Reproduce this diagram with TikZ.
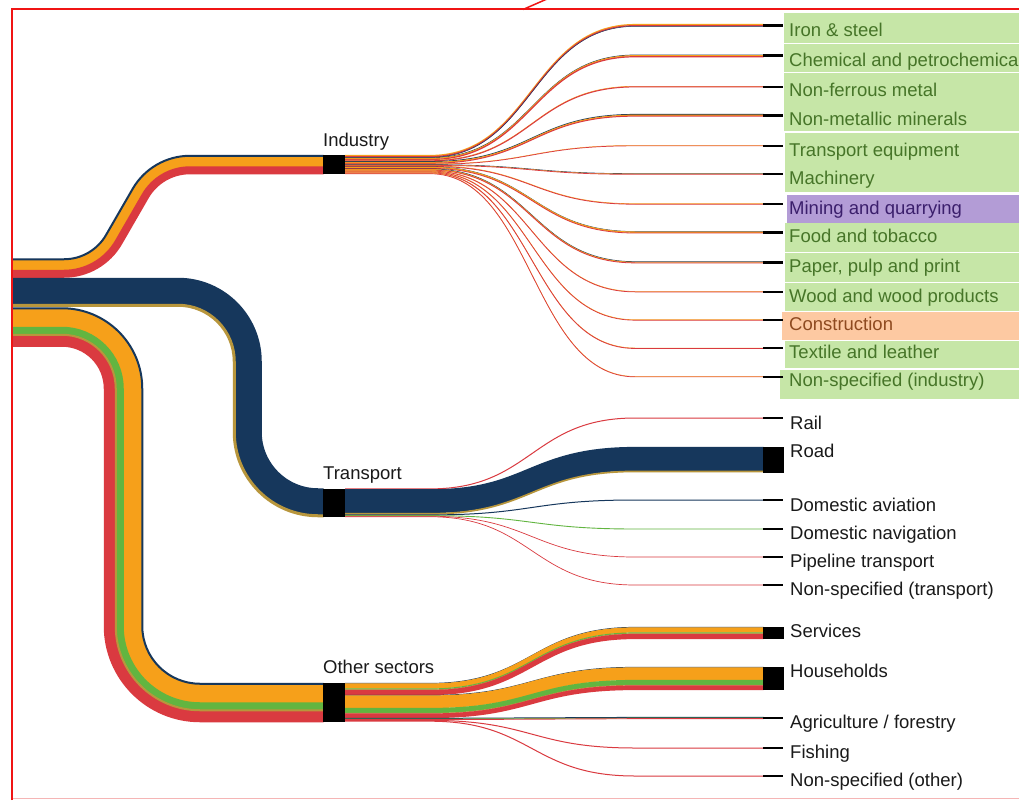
\documentclass[tikz,border=0pt]{standalone}
\usepackage{fontspec}
\setmainfont{Liberation Sans}
\definecolor{cNavy}{HTML}{16375C}
\definecolor{cOrange}{HTML}{F6A01A}
\definecolor{cRed}{HTML}{DA3A40}
\definecolor{cGreen}{HTML}{62B540}
\definecolor{cGold}{HTML}{B8963C}
\definecolor{cFrame}{HTML}{F01414}
\definecolor{cPink}{HTML}{F5B5B5}
\definecolor{cBoxG}{HTML}{C6E6A7}
\definecolor{cBoxP}{HTML}{B39CD6}
\definecolor{cBoxO}{HTML}{FDC9A2}
\definecolor{cTxtG}{HTML}{467528}
\definecolor{cTxtP}{HTML}{3B1F6C}
\definecolor{cTxtO}{HTML}{8E4A20}
\definecolor{cTxt}{HTML}{1A1A1A}
% industry band stripe: colour, top, bottom (at left edge)
\newcommand\indS[3]{%
  \pgfmathsetmacro\yS{(#2+#3)/2}\pgfmathsetmacro\wS{#3-#2+0.5}%
  \pgfmathsetmacro\rA{57.3-(268-\yS)}\pgfmathsetmacro\rB{57.3+(268-\yS)}%
  \pgfmathsetmacro\yE{\yS-103.46}%
  \draw[#1, line width=\wS pt] (11,\yS) -- (64,\yS) arc[start angle=90, end angle=30, radius=\rA] -- ++(26.65,-46.16) arc[start angle=210, end angle=270, radius=\rB] -- (323.5,\yE);}
% transport band stripe
\newcommand\trS[3]{%
  \pgfmathsetmacro\yS{(#2+#3)/2}\pgfmathsetmacro\wS{#3-#2+0.5}%
  \pgfmathsetmacro\rA{361.5-\yS}\pgfmathsetmacro\rB{\yS-221.5}%
  \pgfmathsetmacro\xV{539.5-\yS}\pgfmathsetmacro\yE{\yS+210.5}%
  \draw[#1, line width=\wS pt] (11,\yS) -- (178,\yS) arc[start angle=270, end angle=360, radius=\rA] -- (\xV,432) arc[start angle=180, end angle=90, radius=\rB] -- (323.5,\yE);}
% other sectors band stripe
\newcommand\otS[3]{%
  \pgfmathsetmacro\yS{(#2+#3)/2}\pgfmathsetmacro\wS{#3-#2+0.5}%
  \pgfmathsetmacro\eS{\yS-307.5}%
  \pgfmathsetmacro\rA{81-\eS}\pgfmathsetmacro\rB{57+\eS}%
  \pgfmathsetmacro\xV{143-\eS}\pgfmathsetmacro\yE{683+\eS}%
  \draw[#1, line width=\wS pt] (11,\yS) -- (62,\yS) arc[start angle=270, end angle=360, radius=\rA] -- (\xV,626) arc[start angle=180, end angle=90, radius=\rB] -- (323.5,\yE);}
% multi-stripe link: source top, target top, list colour/width
\newcommand\mlk[3]{%
  \xdef\accO{0}%
  \foreach \cc/\ww in {#3}{%
    \pgfmathsetmacro\sA{#1+\accO+\ww/2}%
    \pgfmathsetmacro\tA{#2+\accO+\ww/2}%
    \pgfmathsetmacro\wB{\ww+0.2}%
    \draw[color=\cc, line width=\wB pt] (345,\sA) -- (430,\sA) .. controls (532,\sA) and (532,\tA) .. (635,\tA) -- (763.5,\tA);
    \pgfmathsetmacro\nA{\accO+\ww}%
    \xdef\accO{\nA}%
  }}
\begin{document}
\begin{tikzpicture}[x=1pt, y=-1pt,
  blk/.style={rectangle, fill=black, draw=none, inner sep=0pt, minimum width=22pt},
  tick/.style={rectangle, fill=black, draw=none, inner sep=0pt, minimum width=20pt},
  lbl/.style={anchor=base west, inner sep=0pt, text=cTxt, font=\fontsize{18.5pt}{22pt}\selectfont},
  lblG/.style={lbl, text=cTxtG},
  lblP/.style={lbl, text=cTxtP},
  lblO/.style={lbl, text=cTxtO}]
\useasboundingbox (0,0) rectangle (1019,800);
\clip (0,0) rectangle (1019,800);
\fill[white] (0,0) rectangle (1019,800);

% label highlight boxes
\fill[cBoxG] (784,13) rectangle (1019,43.3);
\fill[cBoxG] (784,43.8) rectangle (1019,72.4);
\fill[cBoxG] (784,73) rectangle (1019,101.6);
\fill[cBoxG] (784,102.2) rectangle (1019,131);
\fill[cBoxG] (785,133) rectangle (1019,161.6);
\fill[cBoxG] (785,162.3) rectangle (1019,192);
\fill[cBoxP] (787,195) rectangle (1019,222.5);
\fill[cBoxG] (785,223) rectangle (1019,252);
\fill[cBoxG] (785,252.6) rectangle (1019,281.5);
\fill[cBoxG] (785,283) rectangle (1019,311.2);
\fill[cBoxO] (782,312) rectangle (1019,340);
\fill[cBoxG] (785,340.6) rectangle (1019,367.5);
\fill[cBoxG] (780,370) rectangle (1019,399);

% source bands
\indS{cOrange}{260}{270}
\indS{cRed}{270}{277.5}
\indS{cNavy}{258.5}{260}
\trS{cNavy}{278}{304}
\trS{cGold}{304}{306.5}
\otS{cOrange}{309}{327}
\otS{cGreen}{327}{334}
\otS{cRed}{335.5}{346.5}
\otS{cGold}{334}{335.5}
\otS{cNavy}{307.5}{309}

% industry links
\mlk{155}{24.05}{cOrange/1.1, cRed/1.1, cNavy/0.3}
\mlk{157.5}{54.75}{cNavy/0.5, cOrange/1.0, cRed/1.0}
\mlk{160}{86.1}{cOrange/0.4, cRed/0.8}
\mlk{161.2}{114.05}{cNavy/0.7, cOrange/1.0, cRed/0.8}
\mlk{163.7}{145.3}{cOrange/0.3, cRed/0.5}
\mlk{164.5}{173.4}{cNavy/0.4, cOrange/0.3, cRed/0.5}
\mlk{165.7}{203.5}{cOrange/0.4, cRed/0.6}
\mlk{166.7}{231.3}{cNavy/0.3, cOrange/1.1, cRed/0.6}
\mlk{168.7}{261.4}{cNavy/0.5, cOrange/0.7, cRed/0.6}
\mlk{170.5}{291.25}{cOrange/0.35, cRed/0.55}
\mlk{171.4}{319.55}{cOrange/0.4, cRed/0.5}
\mlk{172.3}{347.85}{cOrange/0.3, cRed/0.6}
\mlk{173.2}{376.3}{cOrange/0.3, cRed/0.5}

% transport links
\mlk{488.5}{417.6}{cRed/0.8}
\mlk{489.3}{447}{cNavy/23.7, cGold/1.5}
\mlk{514.5}{499.6}{cNavy/0.8}
\mlk{515.3}{528.65}{cGreen/0.7}
\mlk{516}{556.75}{cRed/0.5}
\mlk{516.5}{584.75}{cRed/0.5}

% other sectors links
\mlk{683}{627}{cNavy/0.5, cOrange/5, cGreen/1, cGold/0.5, cRed/5}
\mlk{695}{667}{cNavy/0.5, cOrange/12.5, cGreen/5, cGold/0.5, cRed/4.5}
\mlk{718}{717}{cNavy/0.8, cGreen/0.5, cRed/0.7}
\mlk{720}{747.6}{cRed/0.8}
\mlk{720.8}{775.6}{cRed/0.8}

% sector nodes
\node[blk, minimum height=19pt] (ind) at (334,164.5) {};
\node[blk, minimum height=28.5pt] (tra) at (334,502.75) {};
\node[blk, minimum height=39pt] (oth) at (334,702.5) {};
\node[lbl] (lind) at (323,146.6) {Industry};
\node[lbl] (ltra) at (323,479.6) {Transport};
\node[lbl] (loth) at (323,673.6) {Other sectors};

% industry end nodes
\node[tick, minimum height=3pt] (i1) at (773,25.3) {};
\node[tick, minimum height=3pt] (i2) at (773,56) {};
\node[tick, minimum height=2.2pt] (i3) at (773,86.7) {};
\node[tick, minimum height=3.5pt] (i4) at (773,115.3) {};
\node[tick, minimum height=2pt] (i5) at (773,145.7) {};
\node[tick, minimum height=2.2pt] (i6) at (773,174) {};
\node[tick, minimum height=2pt] (i7) at (773,204) {};
\node[tick, minimum height=3pt] (i8) at (773,232.3) {};
\node[tick, minimum height=2.8pt] (i9) at (773,262.3) {};
\node[tick, minimum height=2pt] (i10) at (773,291.7) {};
\node[tick, minimum height=2pt] (i11) at (773,320) {};
\node[tick, minimum height=2pt] (i12) at (773,348.3) {};
\node[tick, minimum height=2pt] (i13) at (773,376.7) {};
\node[lblG] at (789,36.6) {Iron \& steel};
\node[lblG] at (789,66.6) {Chemical and petrochemical};
\node[lblG] at (789,96.6) {Non-ferrous metal};
\node[lblG] at (789,125.6) {Non-metallic minerals};
\node[lblG] at (789,156.6) {Transport equipment};
\node[lblG] at (789,184.6) {Machinery};
\node[lblP] at (789,214.6) {Mining and quarrying};
\node[lblG] at (789,242.6) {Food and tobacco};
\node[lblG] at (789,272.6) {Paper, pulp and print};
\node[lblG] at (789,302.6) {Wood and wood products};
\node[lblO] at (789,330.6) {Construction};
\node[lblG] at (789,358.6) {Textile and leather};
\node[lblG] at (789,386.6) {Non-specified (industry)};

% transport end nodes
\node[tick, minimum height=2.2pt] (t1) at (773,418) {};
\node[tick, minimum width=21pt, minimum height=26pt] (t2) at (773.5,460) {};
\node[tick, minimum height=2.2pt] (t3) at (773,500) {};
\node[tick, minimum height=2.2pt] (t4) at (773,529) {};
\node[tick, minimum height=2.2pt] (t5) at (773,557) {};
\node[tick, minimum height=2.2pt] (t6) at (773,585) {};
\node[lbl] at (790,429.6) {Rail};
\node[lbl] at (790,457.6) {Road};
\node[lbl] at (790,511.6) {Domestic aviation};
\node[lbl] at (790,539.6) {Domestic navigation};
\node[lbl] at (790,567.6) {Pipeline transport};
\node[lbl] at (790,595.6) {Non-specified (transport)};

% other sectors end nodes
\node[tick, minimum width=21pt, minimum height=12pt] (o1) at (773.5,633) {};
\node[tick, minimum width=21pt, minimum height=23pt] (o2) at (773.5,678.5) {};
\node[tick, minimum height=2.5pt] (o3) at (773,718) {};
\node[tick, minimum height=2.2pt] (o4) at (773,748) {};
\node[tick, minimum height=2.2pt] (o5) at (773,776) {};
\node[lbl] at (790,637.6) {Services};
\node[lbl] at (790,677.6) {Households};
\node[lbl] at (790,728.6) {Agriculture / forestry};
\node[lbl] at (790,758.6) {Fishing};
\node[lbl] at (790,786.6) {Non-specified (other)};

% frame
\draw[cPink, line width=1.5pt] (11,798.5) -- (1019,798.5);
\draw[cFrame, line width=2pt] (11.5,800) -- (11.5,9) -- (1019,9);
\draw[cFrame, line width=1.5pt] (523,9.5) -- (547,-1);
\end{tikzpicture}
\end{document}
